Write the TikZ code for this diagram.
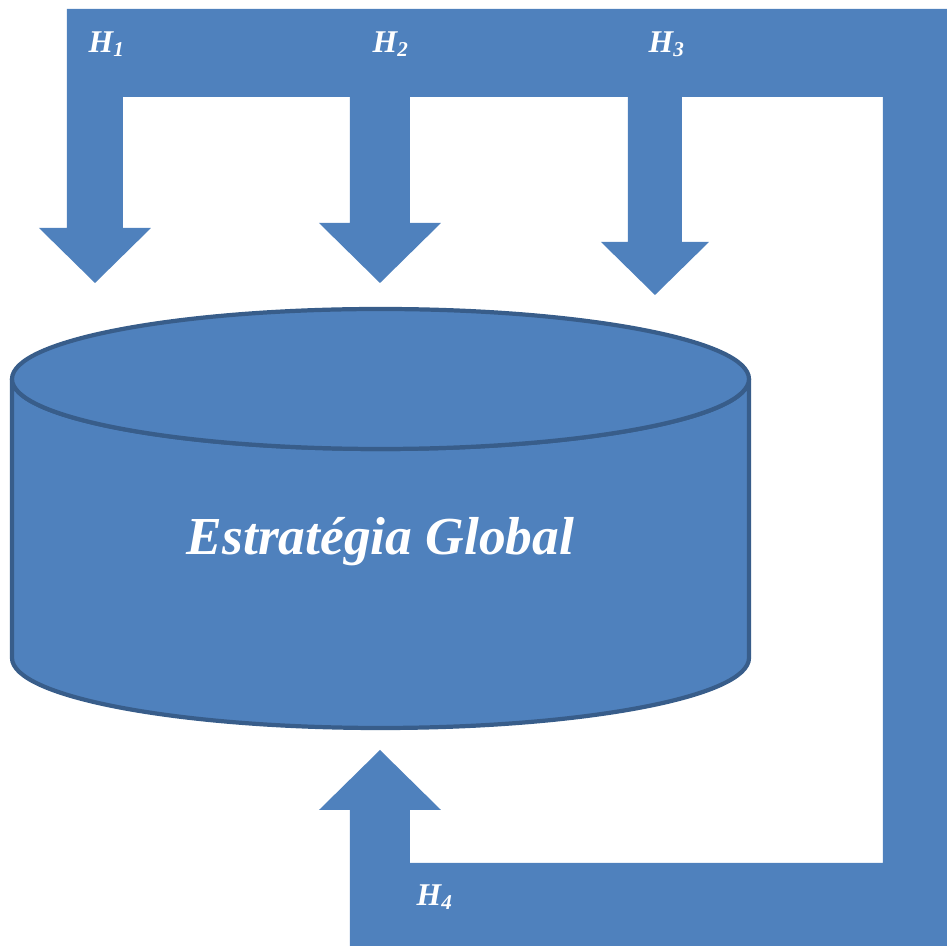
\documentclass[tikz,border=0pt]{standalone}
\usepackage{fontspec}
\setmainfont{Liberation Serif}
\usepackage{tikz}
\usetikzlibrary{calc}

\definecolor{bandblue}{HTML}{4F81BD}
\definecolor{rimblue}{HTML}{385D8A}

\begin{document}
\begin{tikzpicture}[x=0.01cm,y=-0.01cm,
    band/.style={fill=bandblue,draw=none},
    cyl/.style={fill=bandblue,draw=rimblue,line width=1.2pt},
    hlabel/.style={text=white,inner sep=0pt,anchor=base west,font=\fontsize{9}{11}\selectfont\bfseries\itshape},
    every node/.style={font=\small}]
  \useasboundingbox (0,0) rectangle (947,946);

  % feedback band with the arrows
  \fill[bandblue] (67,9) -- (947,9) -- (947,946) -- (350,946) -- (350,810)
    -- (319,810) -- (380,750) -- (441,810) -- (410,810) -- (410,863)
    -- (883,863) -- (883,97) -- (682,97) -- (682,242) -- (709,242)
    -- (655,295) -- (601,242) -- (628,242) -- (628,97) -- (410,97)
    -- (410,223) -- (441,223) -- (380,283) -- (319,223) -- (350,223)
    -- (350,97) -- (123,97) -- (123,228) -- (151,228) -- (95,283)
    -- (39,228) -- (67,228) -- cycle;

  % cylinder
  \draw[cyl] (12,379) -- (12,658)
    arc [start angle=180, end angle=0, x radius=368.5, y radius=70]
    -- (749,379)
    arc [start angle=0, end angle=180, x radius=368.5, y radius=70] -- cycle;
  \draw[cyl] (380.5,379) ellipse [x radius=368.5, y radius=70];
  \node[text=white,inner sep=0pt,anchor=base,font=\fontsize{15.2}{18}\selectfont\bfseries\itshape] (global) at (380.5,555) {Estratégia Global};

  \node[hlabel] (h1) at (88,53) {H\textsubscript{1}};
  \node[hlabel] (h2) at (372,53) {H\textsubscript{2}};
  \node[hlabel] (h3) at (648,53) {H\textsubscript{3}};
  \node[hlabel] (h4) at (416,906) {H\textsubscript{4}};
\end{tikzpicture}
\end{document}
